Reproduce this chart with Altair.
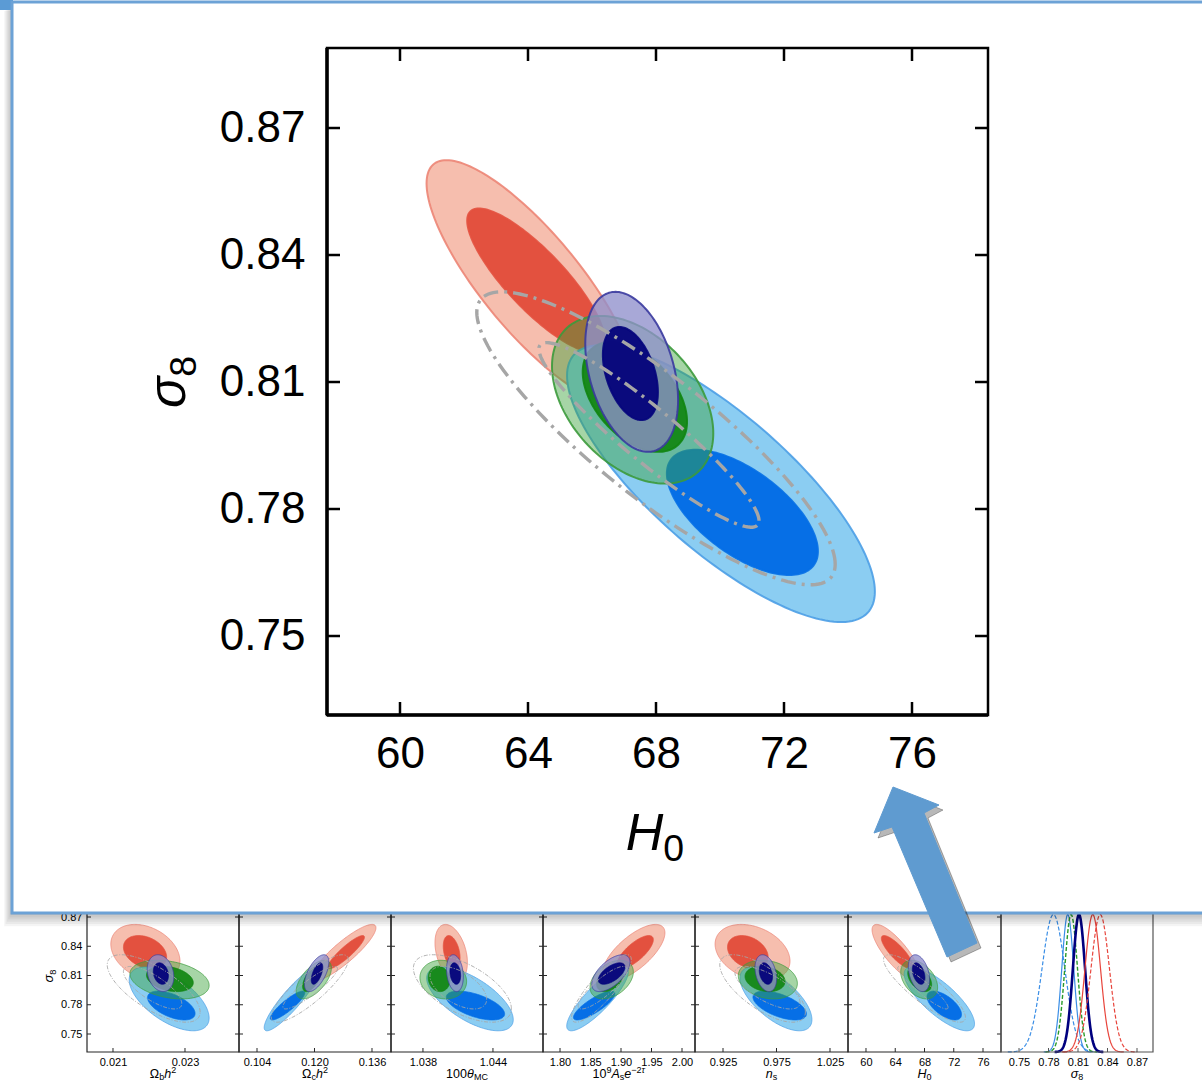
import altair as alt
import numpy as np
import pandas as pd

W, H = 1202, 1084

# ------------------------------------------------------------------ data
# contour order (drawing order): 68%/95% regions of five data combinations
CONTOURS = ["red_out", "red_in", "blue_out", "blue_in", "green_out",
            "green_in", "navy_out", "navy_in", "grey_out", "grey_in"]

# sigma_8 centre and half-extent of every contour (shared by all panels)
SIG8_CENTER = [0.8335, 0.8340, 0.7860, 0.7792, 0.8058, 0.8065, 0.8124, 0.8120, 0.7967, 0.7975]
SIG8_HALF = [0.0289, 0.0170, 0.0327, 0.0148, 0.0198, 0.0130, 0.0189, 0.0110, 0.0346, 0.0218]

# Omega_b h^2 panel
OMBH2_CENTER = [0.02190, 0.02189, 0.02256, 0.02262, 0.02257, 0.02258, 0.02232, 0.02233, 0.02213, 0.02210]
OMBH2_HALF = [0.00096, 0.00060, 0.00111, 0.00066, 0.00110, 0.00065, 0.00037, 0.00021, 0.00129, 0.00081]
OMBH2_RHO = [-0.30, -0.30, -0.60, -0.55, -0.30, -0.30, -0.20, -0.20, -0.70, -0.75]
# Omega_c h^2 panel
OMCH2_CENTER = [0.1281, 0.1288, 0.1137, 0.1125, 0.1198, 0.1193, 0.1206, 0.1207, 0.1187, 0.1188]
OMCH2_HALF = [0.0090, 0.0051, 0.0077, 0.0048, 0.0049, 0.0026, 0.0034, 0.0016, 0.0107, 0.0076]
OMCH2_RHO = [0.88, 0.90, 0.90, 0.88, 0.60, 0.60, 0.60, 0.60, 0.85, 0.90]
# 100 theta_MC panel
THETA_CENTER = [1.04042, 1.04046, 1.04203, 1.04250, 1.03974, 1.03938, 1.04074, 1.04077, 1.04138, 1.04103]
THETA_HALF = [0.00139, 0.00072, 0.00371, 0.00250, 0.00200, 0.00093, 0.00072, 0.00046, 0.00420, 0.00243]
THETA_RHO = [-0.35, -0.35, -0.65, -0.58, -0.10, -0.10, -0.20, -0.20, -0.60, -0.55]
# 10^9 A_s e^{-2tau} panel
AS_CENTER = [1.9210, 1.9230, 1.8615, 1.8560, 1.8847, 1.8820, 1.8834, 1.8847, 1.8680, 1.8697]
AS_HALF = [0.0510, 0.0300, 0.0505, 0.0340, 0.0355, 0.0220, 0.0314, 0.0219, 0.0490, 0.0400]
AS_RHO = [0.70, 0.75, 0.85, 0.82, 0.40, 0.40, 0.60, 0.60, 0.85, 0.85]
# n_s panel
NS_CENTER = [0.9526, 0.9482, 0.9745, 0.9780, 0.9669, 0.9643, 0.9650, 0.9651, 0.9620, 0.9666]
NS_HALF = [0.0350, 0.0190, 0.0336, 0.0250, 0.0276, 0.0187, 0.0101, 0.0062, 0.0400, 0.0304]
NS_RHO = [-0.30, -0.30, -0.65, -0.58, -0.20, -0.20, -0.30, -0.30, -0.70, -0.70]
# H_0 panel (also the enlarged panel)
H0_CENTER = [64.10, 64.25, 70.03, 70.70, 67.27, 67.34, 67.24, 67.20, 68.00, 67.78]
H0_HALF = [3.27, 2.15, 4.81, 2.36, 2.52, 1.63, 1.45, 0.86, 5.60, 3.44]
H0_RHO = [-0.81, -0.83, -0.78, -0.62, -0.40, -0.45, -0.35, -0.40, -0.86, -0.93]

# 1-D sigma_8 posteriors (peak position, width)
CURVE_MEAN = [0.7850, 0.7996, 0.8030, 0.8110, 0.8250, 0.8326]
CURVE_SIGMA = [0.0116, 0.0061, 0.0065, 0.0062, 0.0079, 0.0094]
CURVE_KIND = ["blue_dash", "blue", "green_dash", "navy", "red", "red_dash"]

# tick values
SIG8_TICKS = [0.75, 0.78, 0.81, 0.84, 0.87]
OMBH2_TICKS = [0.021, 0.023]
OMCH2_TICKS = [0.104, 0.120, 0.136]
THETA_TICKS = [1.038, 1.044]
AS_TICKS = [1.80, 1.85, 1.90, 1.95, 2.00]
NS_TICKS = [0.925, 0.975, 1.025]
H0_TICKS = [60, 64, 68, 72, 76]

# ------------------------------------------------------------------ styles / layout
STY = {
    "red_out": dict(fill="#F6BEAE", fo=1.0, stroke="#EC8576"),
    "red_in": dict(fill="#E3513F", fo=1.0, stroke="#E3513F"),
    "blue_out": dict(fill="#8BCDF2", fo=1.0, stroke="#4C9FE6"),
    "blue_in": dict(fill="#066FE6", fo=1.0, stroke="#066FE6"),
    "green_out": dict(fill="#3AA23A", fo=0.45, stroke="#3C9A3C"),
    "green_in": dict(fill="#118511", fo=0.92, stroke="#118511"),
    "navy_out": dict(fill="#8F8FCC", fo=0.78, stroke="#3A3A9E"),
    "navy_in": dict(fill="#06067C", fo=0.97, stroke="#06067C"),
    "grey_out": dict(stroke="#A6A6A6"),
    "grey_in": dict(stroke="#A6A6A6"),
}
CURVE_STY = {
    "blue_dash": ("#3A8EE6", 1.2, [4, 2]),
    "blue": ("#3A8EE6", 1.2, None),
    "green_dash": ("#2A9A2A", 1.4, [4, 2]),
    "navy": ("#00007F", 2.6, None),
    "red": ("#E8453C", 1.2, None),
    "red_dash": ("#E8453C", 1.2, [4, 2]),
}

BIG_PX = (327, 988, 715, 48)          # left, right, bottom, top
BIG_XDOM = (57.719, 78.375)
BIG_YDOM = (0.73134, 0.88890)

SMALL_EDGES = [87, 239, 391, 543, 695, 848, 1001, 1153]
SMALL_BOT, SMALL_TOP = 1052, 898
SMALL_YDOM = (0.73154, 0.88949)
SMALL_XDOMS = [(0.020278, 0.0245), (0.09899, 0.14129), (1.03526, 1.04829),
               (1.7721, 2.0213), (0.89883, 1.04182), (57.54, 78.46), (0.73169, 0.88627)]

LABEL_FONT = "Liberation Sans"

T = np.linspace(0.0, 2.0 * np.pi, 161)
dummy = pd.DataFrame({"d": [0]})


def ellipse_points(cx, sx, cy, sy, rho):
    c, s = np.cos(T), np.sin(T)
    return pd.DataFrame({"x": cx + sx * c,
                         "y": cy + sy * (rho * c + np.sqrt(1.0 - rho ** 2) * s),
                         "i": np.arange(len(T))})


def lin(dom, rng):
    return alt.Scale(domain=list(dom), range=list(rng), nice=False, zero=False)


def contour_layers(cxs, sxs, rhos, xsc, ysc, big):
    out = []
    for k, name in enumerate(CONTOURS):
        df = ellipse_points(cxs[k], sxs[k], SIG8_CENTER[k], SIG8_HALF[k], rhos[k])
        st = STY[name]
        if name.startswith("grey"):
            mk = dict(stroke=st["stroke"], strokeWidth=3.4 if big else 0.9,
                      strokeDash=[15, 6, 3, 6] if big else [4, 1.6, 1, 1.6])
        else:
            mk = dict(fill=st["fill"], fillOpacity=st["fo"], stroke=st["stroke"],
                      strokeWidth=2.0 if big else 0.8, strokeOpacity=0.9)
        out.append(alt.Chart(df).mark_line(**mk).encode(
            x=alt.X("x:Q", scale=xsc, axis=None),
            y=alt.Y("y:Q", scale=ysc, axis=None),
            order=alt.Order("i:Q")))
    return out


def frame_layer(xdom, ydom, xsc, ysc, color, sw, xaxis, yaxis):
    df = pd.DataFrame({"x0": [xdom[0]], "x1": [xdom[1]], "y0": [ydom[0]], "y1": [ydom[1]]})
    return alt.Chart(df).mark_rect(fillOpacity=0, stroke=color, strokeWidth=sw).encode(
        x=alt.X("x0:Q", scale=xsc, axis=xaxis, title=None), x2="x1:Q",
        y=alt.Y("y0:Q", scale=ysc, axis=yaxis, title=None), y2="y1:Q")


def tick_layer(vals, side, xdom, ydom, xsc, ysc, frac, sw, color):
    if side in ("left", "right"):
        span = xdom[1] - xdom[0]
        a = xdom[0] if side == "left" else xdom[1]
        b = a + frac * span if side == "left" else a - frac * span
        df = pd.DataFrame({"v": vals, "a": a, "b": b})
        enc = dict(x=alt.X("a:Q", scale=xsc, axis=None), x2="b:Q",
                   y=alt.Y("v:Q", scale=ysc, axis=None))
    else:
        span = ydom[1] - ydom[0]
        a = ydom[0] if side == "bottom" else ydom[1]
        b = a + frac * span if side == "bottom" else a - frac * span
        df = pd.DataFrame({"v": vals, "a": a, "b": b})
        enc = dict(y=alt.Y("a:Q", scale=ysc, axis=None), y2="b:Q",
                   x=alt.X("v:Q", scale=xsc, axis=None))
    return alt.Chart(df).mark_rule(stroke=color, strokeWidth=sw).encode(**enc)


def axis(orient, offset, ticks, fmt, size, pad, z):
    return alt.Axis(orient=orient, offset=offset, values=ticks, format=fmt,
                    labelFont=LABEL_FONT, labelFontSize=size, labelColor="black",
                    labelPadding=pad, domain=False, ticks=False, tickSize=0,
                    grid=False, labelFlush=False, labelOverlap=False, zindex=z)


CW = {c: 0.556 for c in "0123456789"}
CW.update({".": 0.278, "H": 0.722, "A": 0.667, "M": 0.833, "C": 0.722, "n": 0.556,
           "s": 0.5, "e": 0.556, "h": 0.556, "b": 0.556, "c": 0.5, "\u03a9": 0.768,
           "\u03c3": 0.6, "\u03b8": 0.56, "\u03c4": 0.45, "\u2212": 0.584})


def math_text(segs, x, y, base, angle=0, sub=0.22):
    sizes = []
    for txt, kind in segs:
        sizes.append(base * 0.72 if kind in ("sub", "sup", "supi") else base)
    widths = [sum(CW.get(ch, 0.6) for ch in t) * s for (t, _), s in zip(segs, sizes)]
    pos = -sum(widths) / 2.0
    out = []
    for (txt, kind), s, w in zip(segs, sizes, widths):
        dy = base * sub if kind == "sub" else (-base * 0.38 if kind in ("sup", "supi") else 0)
        style = "italic" if kind in ("i", "supi") else "normal"
        mk = dict(text=txt, font=LABEL_FONT, fontSize=s, fontStyle=style, align="left",
                  baseline="alphabetic", dx=pos, dy=dy, color="black")
        if angle:
            mk["angle"] = angle
        out.append(alt.Chart(dummy).mark_text(**mk).encode(x=alt.value(x), y=alt.value(y)))
        pos += w
    return out


layers = []

# ------------------------------------------------------------------ bottom row (small panels)
panel_data = [
    (OMBH2_CENTER, OMBH2_HALF, OMBH2_RHO, OMBH2_TICKS, ".3f",
     [("\u03a9", "n"), ("b", "sub"), ("h", "i"), ("2", "sup")]),
    (OMCH2_CENTER, OMCH2_HALF, OMCH2_RHO, OMCH2_TICKS, ".3f",
     [("\u03a9", "n"), ("c", "sub"), ("h", "i"), ("2", "sup")]),
    (THETA_CENTER, THETA_HALF, THETA_RHO, THETA_TICKS, ".3f",
     [("100", "n"), ("\u03b8", "i"), ("MC", "sub")]),
    (AS_CENTER, AS_HALF, AS_RHO, AS_TICKS, ".2f",
     [("10", "n"), ("9", "sup"), ("A", "i"), ("s", "sub"), ("e", "i"),
      ("\u22122", "sup"), ("\u03c4", "supi")]),
    (NS_CENTER, NS_HALF, NS_RHO, NS_TICKS, ".3f", [("n", "i"), ("s", "sub")]),
    (H0_CENTER, H0_HALF, H0_RHO, H0_TICKS, "d", [("H", "i"), ("0", "sub")]),
]

ysc_small = lin(SMALL_YDOM, (SMALL_BOT, SMALL_TOP))
for p, (cxs, sxs, rhos, ticks, fmt, segs) in enumerate(panel_data):
    xdom = SMALL_XDOMS[p]
    xl, xr = SMALL_EDGES[p], SMALL_EDGES[p + 1]
    xsc = lin(xdom, (xl, xr))
    layers += contour_layers(cxs, sxs, rhos, xsc, ysc_small, big=False)
    yax = axis("left", -xl, SIG8_TICKS, ".2f", 11, 5, 0) if p == 0 else None
    layers.append(frame_layer(xdom, SMALL_YDOM, xsc, ysc_small, "#262626", 1.2,
                              axis("bottom", SMALL_BOT - H, ticks, fmt, 11, 4, 0), yax))
    layers.append(tick_layer(SIG8_TICKS, "left", xdom, SMALL_YDOM, xsc, ysc_small, 4 / 152, 1, "#262626"))
    layers.append(tick_layer(SIG8_TICKS, "right", xdom, SMALL_YDOM, xsc, ysc_small, 4 / 152, 1, "#262626"))
    layers.append(tick_layer(ticks, "bottom", xdom, SMALL_YDOM, xsc, ysc_small, 4 / 154, 1, "#262626"))
    layers += math_text(segs, (xl + xr) / 2, 1078, 12.5, sub=0.16)

# 1-D sigma_8 panel
xdom7 = SMALL_XDOMS[6]
xsc7 = lin(xdom7, (SMALL_EDGES[6], SMALL_EDGES[7]))
ydom7 = (0.0, 1.12)
ysc7 = lin(ydom7, (SMALL_BOT, SMALL_TOP))
for m, s, kind in zip(CURVE_MEAN, CURVE_SIGMA, CURVE_KIND):
    xs = np.linspace(m - 4 * s, m + 4 * s, 121)
    df = pd.DataFrame({"x": xs, "p": np.exp(-0.5 * ((xs - m) / s) ** 2)})
    col, sw, dash = CURVE_STY[kind]
    mk = dict(stroke=col, strokeWidth=sw)
    if dash:
        mk["strokeDash"] = dash
    layers.append(alt.Chart(df).mark_line(**mk).encode(
        x=alt.X("x:Q", scale=xsc7, axis=None), y=alt.Y("p:Q", scale=ysc7, axis=None)))
layers.append(frame_layer(xdom7, ydom7, xsc7, ysc7, "#555555", 1.2,
                          axis("bottom", SMALL_BOT - H, SIG8_TICKS, ".2f", 11, 4, 0), None))
layers.append(tick_layer(SIG8_TICKS, "bottom", xdom7, ydom7, xsc7, ysc7, 4 / 154, 1, "#555555"))
layers += math_text([("\u03c3", "i"), ("8", "sub")], (SMALL_EDGES[6] + SMALL_EDGES[7]) / 2, 1078, 12.5, sub=0.16)
layers += math_text([("\u03c3", "i"), ("8", "sub")], 53, 976, 13, angle=270)

# ------------------------------------------------------------------ white box with shadow
for k in range(1, 7):
    layers.append(alt.Chart(dummy).mark_rect(fill="black", opacity=0.045).encode(
        x=alt.value(12 - 1.3 * k), x2=alt.value(1215), y=alt.value(2 + 1.5 * k),
        y2=alt.value(913 + 2.2 * k)))
layers.append(alt.Chart(dummy).mark_rect(fill="#5B9BD5").encode(
    x=alt.value(0), x2=alt.value(13), y=alt.value(0), y2=alt.value(10)))
layers.append(alt.Chart(dummy).mark_rect(fill="white", stroke="#6CA2D6", strokeWidth=3).encode(
    x=alt.value(12), x2=alt.value(1215), y=alt.value(2), y2=alt.value(913)))

# ------------------------------------------------------------------ enlarged H0 - sigma8 panel
bxl, bxr, byb, byt = BIG_PX
bxsc = lin(BIG_XDOM, (bxl, bxr))
bysc = lin(BIG_YDOM, (byb, byt))
layers += contour_layers(H0_CENTER, H0_HALF, H0_RHO, bxsc, bysc, big=True)
layers.append(frame_layer(BIG_XDOM, BIG_YDOM, bxsc, bysc, "black", 2.5,
                          axis("bottom", byb - H, H0_TICKS, "d", 44, 17, 1),
                          axis("left", -bxl, SIG8_TICKS, ".2f", 44, 22, 1)))
spines = pd.DataFrame({"x0": [BIG_XDOM[0]], "x1": [BIG_XDOM[1]], "y0": [BIG_YDOM[0]], "y1": [BIG_YDOM[1]]})
layers.append(alt.Chart(spines).mark_rule(stroke="black", strokeWidth=3.5).encode(
    x=alt.X("x0:Q", scale=bxsc, axis=None), y=alt.Y("y0:Q", scale=bysc, axis=None), y2="y1:Q"))
layers.append(alt.Chart(spines).mark_rule(stroke="black", strokeWidth=3.5).encode(
    x=alt.X("x0:Q", scale=bxsc, axis=None), x2="x1:Q", y=alt.Y("y0:Q", scale=bysc, axis=None)))
fx, fy = 13 / (bxr - bxl), 13 / (byb - byt)
layers.append(tick_layer(SIG8_TICKS, "left", BIG_XDOM, BIG_YDOM, bxsc, bysc, fx, 2.5, "black"))
layers.append(tick_layer(SIG8_TICKS, "right", BIG_XDOM, BIG_YDOM, bxsc, bysc, fx, 2.5, "black"))
layers.append(tick_layer(H0_TICKS, "bottom", BIG_XDOM, BIG_YDOM, bxsc, bysc, fy, 2.5, "black"))
layers.append(tick_layer(H0_TICKS, "top", BIG_XDOM, BIG_YDOM, bxsc, bysc, fy, 2.5, "black"))
layers += math_text([("H", "i"), ("0", "sub")], 655, 850, 52)
layers += math_text([("\u03c3", "i"), ("8", "sub")], 185, 382, 52, angle=270)

# ------------------------------------------------------------------ arrow (annotation)
ARROW_X = [893, 939, 924, 977, 947, 892, 874, 893]
ARROW_Y = [787, 805, 813, 943, 957, 827, 833, 787]
arrow = pd.DataFrame({"x": ARROW_X, "y": ARROW_Y, "i": range(len(ARROW_X))})
shadow = arrow.assign(x=arrow.x + 4, y=arrow.y + 5)
for df, col, op in [(shadow, "#000000", 0.28), (arrow, "#5F9BD0", 1.0)]:
    layers.append(alt.Chart(df).mark_line(fill=col, fillOpacity=op, stroke=col, strokeOpacity=op,
                                          strokeWidth=1).encode(
        x=alt.X("x:Q", scale=None, axis=None), y=alt.Y("y:Q", scale=None, axis=None),
        order=alt.Order("i:Q")))

chart = alt.layer(*layers).properties(
    width=W, height=H, autosize=alt.AutoSizeParams(type="none"), padding=0,
    background="white",
).resolve_scale(x="independent", y="independent").configure_view(stroke=None)

chart.save("out.html", embed_options={"renderer": "svg", "actions": False})
